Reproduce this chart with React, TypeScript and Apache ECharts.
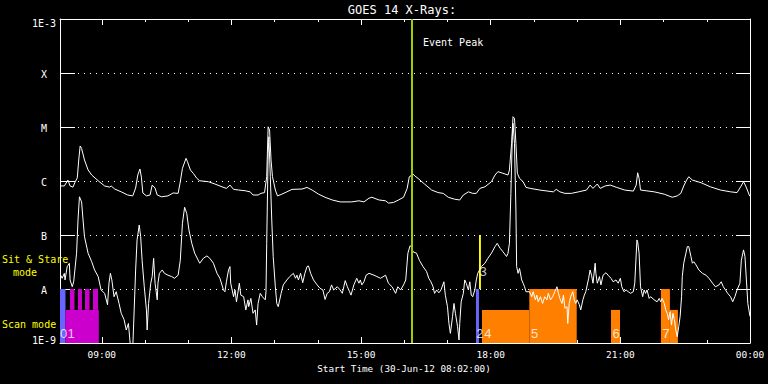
import React, { useEffect, useRef } from 'react';
import * as echarts from 'echarts';

// Time is in minutes elapsed since the start time 08:02:00; flux in W/m^2.
const startClockMin = 482; // 08:02
const spanMin = 958; // to 24:00
const majorTickMins = [58, 238, 418, 598, 778, 958];
const minorTickMins = [118, 178, 298, 358, 478, 538, 658, 718, 838, 898];
const levelExponents = [-9, -8, -7, -6, -5, -4, -3];
const levelNames = ['1E-9', 'A', 'B', 'C', 'M', 'X', '1E-3'];
const eventPeakMin = 489;

// GOES 14 long channel (1-8 A)
const longChannel: [number, number][] = [
  [1, 8.1e-7], [6, 8.1e-7], [11, 1.04e-6], [14, 8.1e-7], [18, 7.7e-7], [21, 9.6e-7], [24, 1.14e-6], [26, 2.45e-6],
  [28, 4.45e-6], [30, 4.0e-6], [34, 2.45e-6], [39, 1.6e-6], [44, 1.29e-6], [53, 1.01e-6], [62, 8.1e-7], [69, 7.7e-7],
  [71, 8.1e-7], [76, 7.1e-7], [85, 6.3e-7], [94, 5.5e-7], [101, 5.3e-7], [105, 7.4e-7], [108, 1.29e-6], [111, 1.67e-6],
  [113, 1.18e-6], [115, 6.0e-7], [120, 5.3e-7], [125, 5.5e-7], [128, 8.4e-7], [132, 7.4e-7], [135, 5.5e-7], [141, 5.1e-7],
  [150, 5.3e-7], [157, 6.0e-7], [164, 5.9e-7], [167, 9.7e-7], [170, 1.72e-6], [175, 2.63e-6], [177, 2.28e-6], [181, 1.6e-6],
  [185, 1.39e-6], [190, 1.12e-6], [194, 1.01e-6], [206, 9.7e-7], [215, 8.8e-7], [225, 7.8e-7], [231, 7.3e-7], [236, 8.4e-7],
  [241, 7.0e-7], [248, 6.8e-7], [257, 6.6e-7], [264, 6.3e-7], [268, 5.5e-7], [275, 5.5e-7], [279, 5.9e-7], [284, 6.1e-7],
  [287, 1.2e-6], [289, 1.01e-5], [291, 8.8e-6], [293, 2.45e-6], [295, 1.2e-6], [299, 6.8e-7], [302, 5.3e-7], [308, 5.7e-7],
  [315, 6.3e-7], [322, 7.0e-7], [336, 7.1e-7], [343, 7.6e-7], [350, 6.8e-7], [359, 5.7e-7], [368, 5.0e-7], [378, 4.45e-7],
  [389, 4.1e-7], [405, 4.1e-7], [415, 4.3e-7], [422, 4.1e-7], [429, 4.8e-7], [433, 5.0e-7], [443, 4.45e-7], [452, 4.3e-7],
  [456, 3.9e-7], [463, 4.0e-7], [470, 4.45e-7], [477, 5.0e-7], [482, 7.3e-7], [485, 1.2e-6], [487, 1.23e-6], [489, 1.39e-6],
  [493, 1.23e-6], [497, 1.12e-6], [506, 8.8e-7], [516, 6.8e-7], [525, 6.1e-7], [532, 5.9e-7], [539, 5.0e-7], [548, 4.6e-7],
  [555, 4.45e-7], [560, 5.5e-7], [567, 6.3e-7], [573, 5.9e-7], [578, 5.9e-7], [583, 7.3e-7], [590, 7.8e-7], [599, 9.7e-7],
  [604, 1.29e-6], [608, 1.49e-6], [615, 1.39e-6], [622, 1.29e-6], [624, 1.6e-6], [627, 5.0e-6], [629, 1.55e-5], [631, 1.45e-5],
  [633, 5.0e-6], [635, 1.39e-6], [638, 1.12e-6], [643, 9.7e-7], [647, 7.6e-7], [653, 7.3e-7], [666, 6.8e-7], [685, 6.3e-7],
  [689, 7.0e-7], [694, 6.3e-7], [701, 5.9e-7], [710, 5.9e-7], [720, 6.3e-7], [731, 6.8e-7], [736, 8.4e-7], [740, 7.3e-7],
  [746, 8.8e-7], [750, 7.3e-7], [757, 8.1e-7], [764, 8.4e-7], [773, 7.6e-7], [784, 6.8e-7], [796, 6.5e-7], [800, 8.4e-7],
  [802, 1.42e-6], [804, 1.12e-6], [806, 6.8e-7], [825, 6.3e-7], [839, 5.7e-7], [850, 5.0e-7], [857, 5.3e-7], [862, 5.9e-7],
  [866, 8.1e-7], [870, 1.04e-6], [873, 1.2e-6], [878, 1.04e-6], [890, 9.3e-7], [903, 7.8e-7], [917, 6.8e-7], [931, 6.3e-7],
  [940, 6.1e-7], [945, 7.8e-7], [949, 9.7e-7], [952, 8.1e-7], [957, 5.5e-7], [958, 5.2e-7],
];

// GOES 14 short channel (0.5-4 A)
const shortChannel: [number, number][] = [
  [1, 1.8e-8], [3, 1.58e-8], [6, 1.95e-8], [7, 1.47e-8], [10, 2.6e-8], [13, 3.0e-8], [14, 1.47e-8], [17, 1.1e-8],
  [19, 1.36e-8], [23, 4.6e-8], [25, 1.9e-7], [27, 5.1e-7], [30, 4.1e-7], [32, 1.9e-7], [34, 9.3e-8], [39, 4.6e-8],
  [44, 3.2e-8], [48, 2.25e-8], [53, 1.7e-8], [57, 9.6e-9], [62, 8.3e-9], [66, 5.1e-9], [68, 1.28e-8], [70, 1.95e-8],
  [72, 1.47e-8], [75, 7.2e-9], [78, 8.9e-9], [82, 5.4e-9], [85, 3.55e-9], [89, 2.7e-9], [92, 1.74e-9], [95, 2.3e-9],
  [98, 8e-10], [101, 8e-10], [103, 4.1e-9], [105, 2.25e-8], [107, 8.1e-8], [110, 1.53e-7], [112, 9.3e-8], [114, 3.4e-8],
  [117, 1.1e-8], [120, 4.1e-9], [121, 1.74e-9], [123, 5.4e-9], [126, 1.28e-8], [128, 1.7e-8], [130, 3.7e-8], [132, 1.28e-8],
  [135, 6.3e-9], [136, 1.28e-8], [138, 1.95e-8], [142, 2.25e-8], [145, 1.95e-8], [150, 1.8e-8], [155, 1.7e-8], [159, 1.58e-8],
  [164, 1.8e-8], [167, 3.4e-8], [170, 1.65e-7], [173, 3.26e-7], [176, 2.5e-7], [179, 1.24e-7], [183, 7.0e-8], [187, 4.6e-8],
  [194, 3.0e-8], [199, 3.7e-8], [204, 4.1e-8], [208, 3.7e-8], [213, 3.0e-8], [218, 1.95e-8], [222, 1.58e-8], [227, 9.6e-9],
  [229, 8.9e-9], [231, 1.36e-8], [234, 2.25e-8], [236, 2.6e-8], [237, 1.28e-8], [241, 7.2e-9], [243, 9.6e-9], [245, 5.8e-9],
  [249, 1.28e-8], [251, 7.7e-9], [255, 7.2e-9], [258, 4.1e-9], [261, 6.3e-9], [262, 4.7e-9], [265, 6.7e-9], [268, 3.55e-9],
  [271, 4.1e-9], [273, 2.15e-9], [275, 5.4e-9], [278, 8.3e-9], [281, 7.2e-9], [285, 6.3e-9], [286, 8.9e-9], [287, 7.0e-8],
  [289, 3.26e-6], [290, 6.6e-6], [292, 1.2e-6], [294, 1.9e-7], [296, 4.0e-8], [299, 1.1e-8], [301, 5.4e-9], [303, 4.7e-9],
  [307, 8.3e-9], [310, 1.19e-8], [315, 1.47e-8], [319, 1.7e-8], [324, 1.95e-8], [327, 1.58e-8], [329, 1.8e-8], [331, 1.47e-8],
  [334, 1.95e-8], [337, 1.31e-8], [340, 1.95e-8], [343, 2.6e-8], [345, 2.67e-8], [348, 1.95e-8], [352, 1.47e-8], [357, 1.19e-8],
  [361, 1.03e-8], [365, 9.6e-9], [368, 6.4e-9], [371, 8.3e-9], [374, 8.9e-9], [377, 1.19e-8], [380, 9.6e-9], [385, 1.1e-8],
  [389, 9.6e-9], [392, 8.3e-9], [394, 1.1e-8], [396, 1.43e-8], [399, 1.1e-8], [402, 8.9e-9], [404, 7.7e-9], [408, 1.19e-8],
  [412, 1.58e-8], [415, 1.28e-8], [417, 1.47e-8], [419, 1.19e-8], [422, 1.36e-8], [425, 1.8e-8], [429, 1.95e-8], [436, 1.8e-8],
  [440, 1.7e-8], [445, 1.58e-8], [452, 1.8e-8], [456, 1.28e-8], [461, 1.1e-8], [466, 8.3e-9], [469, 1.1e-8], [473, 9.6e-9],
  [477, 1.19e-8], [480, 1.47e-8], [483, 4.6e-8], [486, 6.3e-8], [488, 6.1e-8], [490, 4.9e-8], [495, 4.6e-8], [499, 3.4e-8],
  [504, 2.6e-8], [509, 2.1e-8], [512, 1.58e-8], [515, 1.36e-8], [518, 1.1e-8], [520, 8.3e-9], [523, 9.6e-9], [526, 8.5e-9],
  [529, 9.6e-9], [533, 1.36e-8], [535, 7.7e-9], [538, 4.7e-9], [540, 2.3e-9], [542, 1.51e-9], [545, 3.1e-9], [547, 5.4e-9],
  [549, 3.55e-9], [552, 2.0e-9], [554, 1.14e-9], [555, 2.3e-9], [557, 5.8e-9], [560, 8.3e-9], [562, 1.47e-8], [564, 1.28e-8],
  [567, 9.6e-9], [569, 1.36e-8], [571, 7.7e-9], [573, 7.2e-9], [576, 9.6e-9], [578, 1.47e-8], [580, 1.95e-8], [585, 2.6e-8],
  [590, 3.0e-8], [594, 3.7e-8], [599, 4.6e-8], [604, 6.1e-8], [607, 7.0e-8], [611, 5.7e-8], [615, 4.9e-8], [620, 4.0e-8],
  [622, 4.6e-8], [624, 7.0e-8], [626, 5.9e-7], [628, 6.6e-6], [629, 1.17e-5], [631, 5.0e-6], [633, 2.9e-7], [634, 2.6e-8],
  [636, 1.95e-8], [638, 2.4e-8], [641, 1.47e-8], [643, 1.28e-8], [645, 1.1e-8], [647, 8.9e-9], [652, 8.9e-9], [655, 7.2e-9],
  [657, 8.9e-9], [660, 6.3e-9], [662, 7.7e-9], [664, 5.8e-9], [667, 7.2e-9], [670, 5.4e-9], [673, 7.2e-9], [676, 6.3e-9],
  [678, 8.3e-9], [681, 6.3e-9], [684, 7.2e-9], [687, 8.9e-9], [690, 1.1e-8], [692, 8.3e-9], [694, 6.7e-9], [697, 5.4e-9],
  [699, 7.7e-9], [701, 4.4e-9], [704, 4.7e-9], [705, 2.3e-9], [707, 5.4e-9], [709, 7.2e-9], [712, 8.9e-9], [714, 6.3e-9],
  [716, 5.4e-9], [718, 6.3e-9], [721, 5.1e-9], [723, 4.1e-9], [726, 6.3e-9], [728, 7.7e-9], [730, 8.9e-9], [734, 1.58e-8],
  [736, 2.25e-8], [738, 1.8e-8], [740, 1.28e-8], [743, 3.0e-8], [744, 1.95e-8], [746, 1.28e-8], [749, 1.7e-8], [751, 1.19e-8],
  [754, 1.8e-8], [758, 2.0e-8], [761, 1.8e-8], [765, 1.58e-8], [768, 1.36e-8], [772, 1.47e-8], [775, 1.28e-8], [778, 1.58e-8],
  [780, 1.1e-8], [783, 8.9e-9], [786, 9.6e-9], [789, 8.9e-9], [792, 8.3e-9], [796, 8.9e-9], [798, 1.28e-8], [801, 8.1e-8],
  [802, 7.5e-8], [804, 4.6e-8], [806, 1.1e-8], [809, 7.2e-9], [811, 9.6e-9], [813, 8.3e-9], [815, 9.6e-9], [818, 6.7e-9],
  [820, 7.2e-9], [825, 6.3e-9], [829, 5.8e-9], [832, 6.7e-9], [834, 5.8e-9], [836, 6.7e-9], [839, 5.4e-9], [841, 4.1e-9],
  [843, 3.55e-9], [845, 2.7e-9], [847, 3.8e-9], [849, 2.15e-9], [851, 3.55e-9], [853, 2.7e-9], [855, 1.74e-9], [857, 1.31e-9],
  [859, 2.0e-9], [861, 3.1e-9], [863, 7.2e-9], [864, 1.7e-8], [866, 3.0e-8], [869, 4.6e-8], [871, 6.1e-8], [873, 6.1e-8],
  [876, 4.0e-8], [878, 3.0e-8], [880, 3.2e-8], [883, 2.8e-8], [887, 2.25e-8], [892, 1.95e-8], [897, 1.8e-8], [901, 1.58e-8],
  [906, 1.28e-8], [910, 1.1e-8], [915, 1.19e-8], [918, 1.36e-8], [921, 1.1e-8], [924, 9.6e-9], [927, 8.3e-9], [931, 7.2e-9],
  [934, 5.8e-9], [937, 7.2e-9], [940, 9.6e-9], [944, 1.28e-8], [946, 3.4e-8], [949, 5.3e-8], [951, 4.0e-8], [953, 1.47e-8],
  [955, 5.4e-9], [958, 3.1e-9],
];

// Observation blocks: [startMin, endMin, topFlux, bottomFlux]
const sitStareBlocks: [number, number, number, number][] = [[581.7, 584.4, 1e-7, 1e-8]];
const blueBlocks: [number, number, number, number][] = [[0, 7.6, 1e-8, 1e-9], [577.6, 581.7, 1e-8, 1e-9]];
const magentaBlocks: [number, number, number, number][] = [
  [7.6, 53.9, 4.1e-9, 1e-9], [13.9, 20.1, 1e-8, 4.1e-9], [25, 30.5, 1e-8, 4.1e-9],
  [34.7, 41, 1e-8, 4.1e-9], [45.8, 52.8, 1e-8, 4.1e-9],
];
const orangeBlocks: [number, number, number, number][] = [
  [585.9, 651.6, 4.1e-9, 1e-9], [651.6, 717.4, 1e-8, 1e-9], [765, 777.5, 4.1e-9, 1e-9],
  [834.3, 846.8, 1e-8, 1e-9], [846.8, 857.9, 4.1e-9, 1e-9],
];

const obsLabels = ['0', '1', '2', '3', '4', '5', '6', '7'];
const obsLabelMins = [4.9, 15.3, 583.1, 587.3, 594.2, 658.8, 772, 841.4];
const obsLabelFlux = [1.5e-9, 1.5e-9, 1.5e-9, 2.15e-8, 1.5e-9, 1.5e-9, 1.5e-9, 1.5e-9];

const MONO = 'DejaVu Sans Mono';

function fmtClock(v: number): string {
  const total = Math.round(v) + startClockMin;
  const h = Math.floor(total / 60) % 24;
  const m = total % 60;
  return String(h).padStart(2, '0') + ':' + String(m).padStart(2, '0');
}

function blockSeries(data: [number, number, number, number][], color: string) {
  return {
    type: 'custom',
    data,
    silent: true,
    clip: true,
    encode: { x: [0, 1], y: [2, 3] },
    renderItem: (_params: any, api: any) => {
      const a = api.coord([api.value(0), api.value(2)]);
      const b = api.coord([api.value(1), api.value(3)]);
      return {
        type: 'rect',
        shape: { x: a[0], y: a[1], width: b[0] - a[0], height: b[1] - a[1] },
        style: { fill: color },
      };
    },
  };
}

function xAxisDef(position: string, ticks: number[], len: number, withLabels: boolean, showLine: boolean) {
  return {
    type: 'value',
    position,
    min: 0,
    max: spanMin,
    axisLine: { show: showLine, onZero: false, lineStyle: { color: '#ffffff', width: 1 } },
    axisTick: { show: true, inside: true, length: len, customValues: ticks, lineStyle: { color: '#ffffff', width: 1 } },
    axisLabel: withLabels
      ? { show: true, customValues: ticks, formatter: (v: number) => fmtClock(v), color: '#ffffff', fontFamily: MONO, fontSize: 9.5, margin: 6 }
      : { show: false },
    splitLine: { show: false },
  };
}

export default function App() {
  const ref = useRef<HTMLDivElement>(null);
  useEffect(() => {
    if (!ref.current) return;
    const chart = echarts.init(ref.current, null, { renderer: 'svg' });
    const labelData = obsLabels.map((t, i) => [obsLabelMins[i], obsLabelFlux[i], t]);
    const richBase = { color: '#ffffff', fontFamily: MONO, fontSize: 10 };
    const option: any = {
      backgroundColor: '#000000',
      animation: false,
      textStyle: { fontFamily: MONO },
      grid: { left: 60, top: 19, width: 690, height: 324, containLabel: false },
      xAxis: [
        xAxisDef('bottom', majorTickMins, 6, true, true),
        xAxisDef('bottom', minorTickMins, 3, false, false),
        xAxisDef('top', majorTickMins, 6, false, true),
        xAxisDef('top', minorTickMins, 3, false, false),
      ],
      yAxis: [
        {
          type: 'log', logBase: 10, min: 1e-9, max: 1e-3, splitNumber: 6, position: 'left',
          axisLine: { show: true, onZero: false, lineStyle: { color: '#ffffff', width: 1 } },
          axisTick: { show: true, inside: true, length: 15, lineStyle: { color: '#ffffff', width: 1 } },
          axisLabel: {
            color: '#ffffff', fontFamily: MONO, fontSize: 10, align: 'center', margin: 16,
            formatter: (v: number) => {
              const e = Math.round(Math.log10(v));
              const i = levelExponents.indexOf(e);
              if (i < 0) return '';
              if (i === levelExponents.length - 1) return '{top|' + levelNames[i] + '}';
              if (i === 0) return '{bot|' + levelNames[i] + '}';
              return '{mid|' + levelNames[i] + '}';
            },
            rich: {
              top: { ...richBase, padding: [8, 0, 0, 0] },
              bot: { ...richBase, padding: [0, 0, 5, 0] },
              mid: { ...richBase, padding: [3, 0, 0, 0] },
            },
          },
          splitLine: { show: true, lineStyle: { color: '#ffffff', width: 1, type: [1, 5] } },
        },
        {
          type: 'log', logBase: 10, min: 1e-9, max: 1e-3, splitNumber: 6, position: 'right',
          axisLine: { show: true, onZero: false, lineStyle: { color: '#ffffff', width: 1 } },
          axisTick: { show: true, inside: true, length: 14, lineStyle: { color: '#ffffff', width: 1 } },
          axisLabel: { show: false },
          splitLine: { show: false },
        },
      ],
      series: [
        blockSeries(blueBlocks, '#6666ff'),
        blockSeries(magentaBlocks, '#cc00cc'),
        blockSeries(orangeBlocks, '#ff8000'),
        blockSeries(sitStareBlocks, '#ffff00'),
        {
          type: 'line', name: 'long', data: longChannel, symbol: 'none', showSymbol: false, silent: true,
          lineStyle: { color: '#ffffff', width: 1 },
          markLine: {
            silent: true, symbol: ['none', 'none'], label: { show: false },
            lineStyle: { color: '#a0cc00', width: 2, type: 'solid' },
            data: [{ xAxis: eventPeakMin }],
          },
        },
        {
          type: 'line', name: 'short', data: shortChannel, symbol: 'none', showSymbol: false, silent: true,
          lineStyle: { color: '#ffffff', width: 1 },
        },
        {
          type: 'scatter', data: labelData, symbol: 'circle', symbolSize: 1, silent: true,
          itemStyle: { color: 'rgba(0,0,0,0)' },
          label: {
            show: true, position: 'inside', formatter: (p: any) => p.data[2],
            color: '#ffffff', fontFamily: 'Liberation Sans', fontSize: 13,
          },
        },
      ],
      graphic: [
        { type: 'text', x: 402, y: 10, style: { text: 'GOES 14 X-Rays:', fill: '#ffffff', font: '12px "DejaVu Sans Mono"', align: 'center', verticalAlign: 'middle' } },
        { type: 'text', x: 404, y: 368, style: { text: 'Start Time (30-Jun-12 08:02:00)', fill: '#ffffff', font: '9.3px "DejaVu Sans Mono"', align: 'center', verticalAlign: 'middle' } },
        { type: 'text', x: 423, y: 42, style: { text: 'Event Peak', fill: '#ffffff', font: '10px "DejaVu Sans Mono"', align: 'left', verticalAlign: 'middle' } },
        { type: 'text', x: 2, y: 259, style: { text: 'Sit & Stare', fill: '#ffff00', font: '10px "DejaVu Sans Mono"', align: 'left', verticalAlign: 'middle' } },
        { type: 'text', x: 13, y: 272, style: { text: 'mode', fill: '#ffff00', font: '10px "DejaVu Sans Mono"', align: 'left', verticalAlign: 'middle' } },
        { type: 'text', x: 2, y: 324, style: { text: 'Scan mode', fill: '#ffff00', font: '10px "DejaVu Sans Mono"', align: 'left', verticalAlign: 'middle' } },
      ],
    };
    chart.setOption(option);
    return () => chart.dispose();
  }, []);
  return <div ref={ref} style={{ position: 'fixed', left: 0, top: 0, width: 768, height: 384, background: '#000' }} />;
}
